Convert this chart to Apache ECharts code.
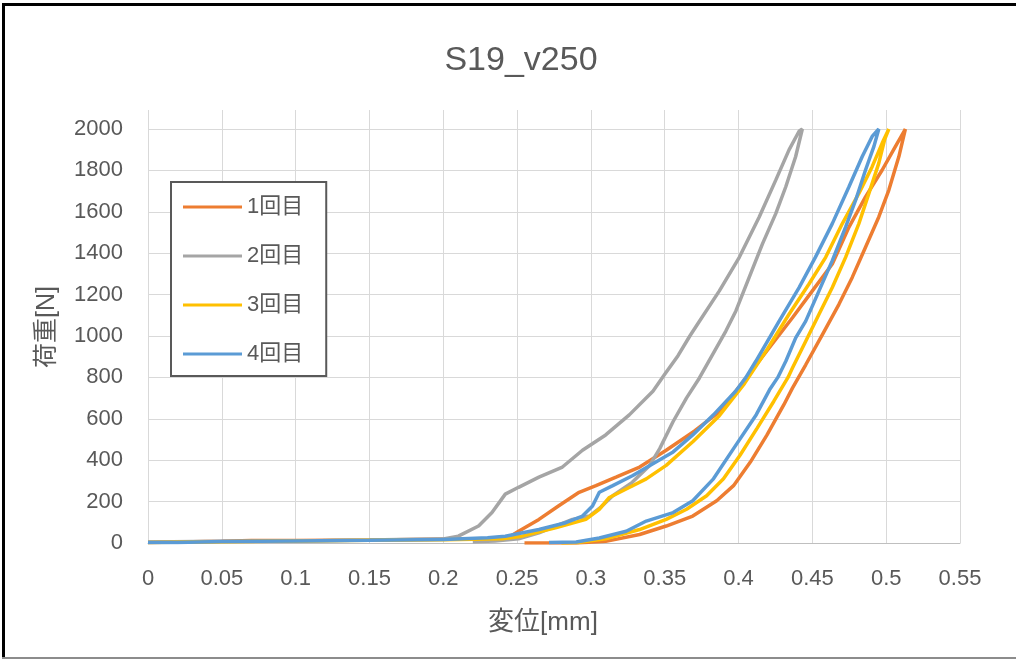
<!DOCTYPE html>
<html>
<head>
<meta charset="utf-8">
<script src="https://cdn.jsdelivr.net/npm/echarts@6/dist/echarts.min.js"></script>
<style>
  html, body { margin: 0; padding: 0; background: #fff; }
  #wrap { position: relative; width: 1016px; height: 661px; }
  #c { width: 1016px; height: 661px; }
  .b { position: absolute; pointer-events: none; }
</style>
</head>
<body>
<div id="wrap">
  <div id="c"></div>
  <div class="b" style="left:2px;top:3px;width:1014px;height:3px;background:#000;"></div>
  <div class="b" style="left:2px;top:3px;width:3px;height:656px;background:#000;"></div>
  <div class="b" style="left:2px;top:657px;width:1014px;height:2px;background:#8c8c8c;"></div>
</div>
<script>
const chartTitle = 'S19_v250';
const xAxisName = '変位[mm]';
const yAxisName = '荷重[N]';
const seriesNames = ['1回目', '2回目', '3回目', '4回目'];
const seriesColors = ['#ED7D31', '#A5A5A5', '#FFC000', '#5B9BD5'];
const xTicks = { min: 0, max: 0.55, interval: 0.05 };
const yTicks = { min: 0, max: 2000, interval: 200 };

// [displacement mm, load N] : loading branch then unloading branch
const run1 = [
  [0,3],[0.02,5],[0.05,8],[0.07,12],[0.1,12],[0.15,14],[0.2,18],[0.23,20],[0.245,30],
  [0.251,57],[0.2648,114],[0.278,179],[0.292,245],[0.3034,277],[0.317,318],[0.333,367],[0.351,448],
  [0.37,540],[0.387,634],[0.405,796],[0.4207,942],[0.4365,1088],[0.45,1218],[0.4635,1348],
  [0.4748,1526],[0.486,1672],[0.4973,1802],[0.5063,1916],[0.513,2000],
  [0.5086,1867],[0.5018,1705],[0.495,1575],[0.486,1429],[0.477,1283],[0.468,1153],[0.4568,1007],
  [0.4455,861],[0.4365,748],[0.4307,668],[0.4193,522],[0.408,391],[0.3966,277],[0.3852,204],
  [0.369,130],[0.351,82],[0.333,41],[0.31,8],[0.29,0],[0.27,0],[0.255,0]
];
const run2 = [
  [0,5],[0.05,8],[0.1,10],[0.15,14],[0.2,20],
  [0.2102,33],[0.2239,82],[0.233,147],[0.242,236],[0.251,269],[0.2648,318],[0.2807,367],
  [0.2943,448],[0.31,522],[0.326,619],[0.342,733],[0.35,815],[0.359,905],[0.367,1000],
  [0.3734,1070],[0.387,1218],[0.4005,1380],[0.414,1575],[0.4252,1753],[0.4342,1899],
  [0.441,1989],[0.4432,2000],
  [0.4387,1867],[0.432,1721],[0.4252,1591],[0.4162,1445],[0.4072,1283],[0.3982,1121],
  [0.3914,1024],[0.3824,910],[0.3734,796],[0.3648,701],[0.3557,587],[0.3466,456],[0.3398,375],
  [0.328,293],[0.3148,228],[0.307,175],[0.2989,130],[0.2875,114],[0.276,82],[0.2648,49],
  [0.251,20],[0.235,10],[0.22,6]
];
const run3 = [
  [0,3],[0.05,6],[0.1,10],[0.15,13],[0.2,16],[0.24,20],
  [0.2534,33],[0.276,73],[0.2966,114],[0.3057,163],[0.3125,220],[0.3239,261],[0.3375,310],
  [0.351,375],[0.369,489],[0.387,615],[0.404,770],[0.4185,926],[0.4342,1105],[0.4477,1251],
  [0.459,1380],[0.4703,1543],[0.4815,1689],[0.4905,1818],[0.4973,1932],[0.5018,2000],
  [0.499,1950],[0.495,1835],[0.4883,1689],[0.4815,1543],[0.4725,1380],[0.4635,1234],
  [0.4545,1105],[0.4455,975],[0.4365,845],[0.4335,800],[0.4239,685],[0.4125,554],[0.401,424],
  [0.3898,310],[0.3784,228],[0.3648,163],[0.351,114],[0.333,65],[0.31,20],[0.292,3],[0.28,0]
];
const run4 = [
  [0,2],[0.02,3],[0.05,7],[0.1,10],[0.15,13],[0.2,17],[0.23,25],
  [0.242,33],[0.2648,65],[0.283,98],[0.2943,130],[0.3011,179],[0.3057,245],[0.3148,277],
  [0.3284,326],[0.342,383],[0.3557,440],[0.369,522],[0.383,619],[0.398,733],[0.405,800],
  [0.4117,878],[0.4275,1072],[0.441,1234],[0.452,1380],[0.4635,1543],[0.4748,1721],
  [0.4838,1867],[0.4905,1964],[0.495,2000],
  [0.4917,1916],[0.486,1802],[0.4793,1656],[0.4725,1526],[0.4635,1364],[0.4545,1218],
  [0.4455,1072],[0.4387,991],[0.432,878],[0.4266,800],[0.421,740],[0.412,620],[0.3966,456],
  [0.383,310],[0.369,204],[0.3557,147],[0.3375,106],[0.3239,57],[0.3057,24],[0.29,5],[0.2716,3]
];
const runs = [run1, run2, run3, run4];

const FONT = "'Liberation Sans', 'Noto Sans CJK JP', sans-serif";
const TXT = '#595959';

const chart = echarts.init(document.getElementById('c'), null, { renderer: 'canvas' });
chart.setOption({
  animation: false,
  backgroundColor: '#ffffff',
  title: {
    text: chartTitle,
    left: 521,
    textAlign: 'center',
    top: 44,
    padding: 0,
    textStyle: { fontFamily: FONT, fontSize: 34, fontWeight: 'normal', color: TXT }
  },
  legend: {
    data: seriesNames,
    orient: 'vertical',
    left: 171,
    top: 182,
    padding: [13, 23, 10, 12],
    itemGap: 25,
    itemWidth: 59,
    itemHeight: 3,
    icon: 'rect',
    borderColor: '#595959',
    borderWidth: 2,
    backgroundColor: '#ffffff',
    textStyle: { fontFamily: FONT, fontSize: 22, color: TXT, lineHeight: 24 }
  },
  grid: [
    { left: 148, right: 56, top: 110, bottom: 118, containLabel: false },
    { left: 148, right: 56, top: 129, bottom: 118, containLabel: false }
  ],
  xAxis: [
    {
      gridIndex: 0, type: 'value',
      min: xTicks.min, max: xTicks.max, interval: xTicks.interval,
      name: xAxisName, nameLocation: 'middle', nameGap: 67,
      nameTextStyle: { fontFamily: FONT, fontSize: 26, color: TXT, padding: [0, 22, 0, 0] },
      axisLine: { show: true, lineStyle: { color: '#bfbfbf', width: 1 } },
      axisTick: { show: false },
      axisLabel: { fontFamily: FONT, fontSize: 22, color: TXT, margin: 25 },
      splitLine: { show: true, lineStyle: { color: '#d9d9d9', width: 1 } }
    },
    {
      gridIndex: 1, type: 'value',
      min: xTicks.min, max: xTicks.max, interval: xTicks.interval,
      show: false,
      splitLine: { show: false }
    }
  ],
  yAxis: [
    { gridIndex: 0, type: 'value', min: 0, max: 1, show: false, splitLine: { show: false } },
    {
      gridIndex: 1, type: 'value',
      min: yTicks.min, max: yTicks.max, interval: yTicks.interval,
      name: yAxisName, nameLocation: 'middle', nameGap: 88, nameRotate: 90,
      nameTextStyle: { fontFamily: FONT, fontSize: 25, color: TXT, padding: [0, 0, 0, 18] },
      axisLine: { show: false },
      axisTick: { show: false },
      axisLabel: { fontFamily: FONT, fontSize: 22, color: TXT, margin: 25, formatter: v => String(v) },
      splitLine: { show: true, lineStyle: { color: '#d9d9d9', width: 1 } }
    }
  ],
  series: runs.map((d, i) => ({
    name: seriesNames[i],
    type: 'line',
    xAxisIndex: 1,
    yAxisIndex: 1,
    data: d,
    showSymbol: false,
    symbol: 'none',
    smooth: false,
    clip: true,
    lineStyle: { color: seriesColors[i], width: 3.5 },
    itemStyle: { color: seriesColors[i] },
    z: 2 + i
  }))
});
</script>
</body>
</html>
